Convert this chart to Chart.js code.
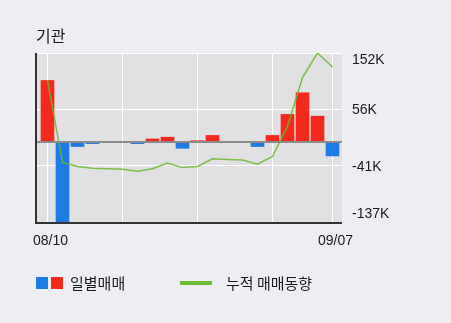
<!DOCTYPE html>
<html>
<head>
<meta charset="utf-8">
<script src="https://cdn.jsdelivr.net/npm/chart.js@4/dist/chart.umd.min.js"></script>
<style>
  html, body { margin: 0; padding: 0; background: #eceef2; }
  canvas { display: block; }
</style>
</head>
<body>
<canvas id="chart" width="451" height="323"></canvas>
<script>
// trading days, 08/10 ~ 09/07 (unit: thousand shares)
const dates = ["08/10", "08/11", "08/12", "08/13", "08/14", "08/18", "08/19", "08/20", "08/21", "08/24",
  "08/25", "08/26", "08/27", "08/28", "08/31", "09/01", "09/02", "09/03", "09/04", "09/07"];
const dailyNet = [105, -137, -8, -3, -1, -1, -3, 5, 8, -11, 2, 11, -1, -1, -8, 11, 47, 84, 44, -24];
const cumulative = [105, -35, -42, -45, -46, -47, -50, -46, -36, -44, -42, -29, -30, -31, -38, -25, 27, 110, 152, 128];

const yTickValues = [152, 55.67, -40.67, -137];
const yTickLabels = ["152K", "56K", "-41K", "-137K"];
const xGridIndex = [0, 5, 10, 15, 19];
const xLabelIndex = [0, 19];

const FONT = '"Liberation Sans", "Noto Sans CJK KR", sans-serif';
const KFONT = '"Noto Sans CJK KR", sans-serif';
const RED = "#f2291b";
const BLUE = "#1e7be6";
const GREEN = "#6cbd35";

const barData = dailyNet.map((v, i) => ({ x: i, y: v }));
const lineData = cumulative.map((v, i) => ({ x: i, y: v }));

const decorPlugin = {
  id: "decor",
  beforeDraw(chart) {
    const { ctx, chartArea: a } = chart;
    ctx.save();
    ctx.fillStyle = "#e1e1e3";
    ctx.fillRect(a.left, a.top, a.right - a.left, a.bottom - a.top);
    ctx.restore();
  },
  afterDatasetsDraw(chart) {
    const { ctx, chartArea: a, scales } = chart;
    const y0 = scales.y.getPixelForValue(0);
    ctx.save();
    // zero line
    ctx.strokeStyle = "#8a8a8a";
    ctx.lineWidth = 2;
    ctx.beginPath();
    ctx.moveTo(a.left, y0);
    ctx.lineTo(a.right, y0);
    ctx.stroke();
    // left and bottom axis lines
    ctx.strokeStyle = "#333";
    ctx.lineWidth = 2;
    ctx.beginPath();
    ctx.moveTo(a.left, a.top);
    ctx.lineTo(a.left, a.bottom + 1);
    ctx.lineTo(a.right, a.bottom + 1);
    ctx.stroke();
    ctx.restore();
  },
  afterDraw(chart) {
    const { ctx, chartArea: a, scales } = chart;
    ctx.save();
    ctx.fillStyle = "#1a1a1a";

    // title
    ctx.font = "16px " + KFONT;
    ctx.textAlign = "left";
    ctx.textBaseline = "middle";
    ctx.fillText("기관", 36, 36);

    // y labels on the right
    ctx.font = "14px " + FONT;
    yTickValues.forEach((v, i) => {
      let py = scales.y.getPixelForValue(v) + 1;
      py = Math.max(a.top + 7, Math.min(a.bottom - 8, py));
      ctx.fillText(yTickLabels[i], 352, py);
    });

    // x labels
    ctx.textAlign = "center";
    xLabelIndex.forEach((i) => {
      ctx.fillText(dates[i], scales.x.getPixelForValue(i) + 3, 241);
    });

    // legend
    ctx.fillStyle = BLUE;
    ctx.fillRect(36, 277, 12, 12);
    ctx.fillStyle = RED;
    ctx.fillRect(51, 277, 12, 12);
    ctx.strokeStyle = GREEN;
    ctx.lineWidth = 4;
    ctx.beginPath();
    ctx.moveTo(180, 283);
    ctx.lineTo(212, 283);
    ctx.stroke();

    ctx.fillStyle = "#1a1a1a";
    ctx.font = "15px " + KFONT;
    ctx.textAlign = "left";
    ctx.fillText("일별매매", 70, 283);
    ctx.fillText("누적 매매동향", 226, 283);
    ctx.restore();
  },
};

new Chart(document.getElementById("chart"), {
  type: "bar",
  data: {
    datasets: [
      {
        type: "line",
        data: lineData,
        borderColor: "rgba(104, 184, 44, 0.85)",
        borderWidth: 1.5,
        pointRadius: 0,
        tension: 0,
        order: 0,
      },
      {
        type: "bar",
        data: barData,
        backgroundColor: dailyNet.map((v) => (v >= 0 ? RED : BLUE)),
        barThickness: 13,
        order: 1,
      },
    ],
  },
  options: {
    responsive: false,
    devicePixelRatio: 1,
    animation: false,
    layout: { padding: { left: 36, right: 109, top: 53, bottom: 101 } },
    plugins: {
      legend: { display: false },
      tooltip: { enabled: false },
    },
    scales: {
      x: {
        type: "linear",
        min: -0.767,
        max: 19.633,
        offset: false,
        afterBuildTicks: (axis) => {
          axis.ticks = xGridIndex.map((v) => ({ value: v }));
        },
        afterFit: (axis) => {
          axis.height = 0;
        },
        ticks: { display: false },
        grid: { color: "#ffffff", lineWidth: 1, drawTicks: false, offset: false },
        border: { display: false },
      },
      y: {
        position: "right",
        min: -137,
        max: 152,
        afterBuildTicks: (axis) => {
          axis.ticks = yTickValues.map((v) => ({ value: v }));
        },
        afterFit: (axis) => {
          axis.width = 0;
        },
        ticks: { display: false },
        grid: { color: "#ffffff", lineWidth: 1, drawTicks: false },
        border: { display: false },
      },
    },
  },
  plugins: [decorPlugin],
});
</script>
</body>
</html>
